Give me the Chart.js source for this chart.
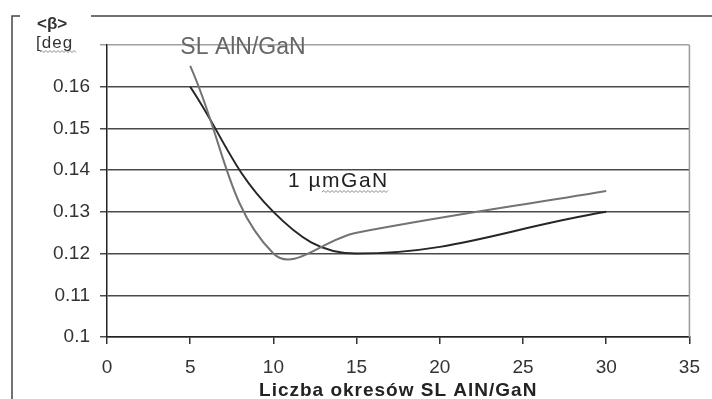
<!DOCTYPE html>
<html>
<head>
<meta charset="utf-8">
<script src="https://cdn.jsdelivr.net/npm/chart.js@4"></script>
<style>
  html, body { margin: 0; padding: 0; background: #fff; }
  #wrap { width: 712px; height: 399px; }
</style>
</head>
<body>
<div id="wrap"><canvas id="beta" width="712" height="399"></canvas></div>
<script>
// number of SL AlN/GaN periods
const periods = [5, 10, 15, 30];
// mean tilt <β> in degrees
const betaSL = [0.165, 0.12, 0.125, 0.135];
const betaGaN = [0.16, 0.13, 0.12, 0.13];

const xTicks = [0, 5, 10, 15, 20, 25, 30, 35];
const yTicks = [0.1, 0.11, 0.12, 0.13, 0.14, 0.15, 0.16, 0.17];

const toPoints = (ys) => periods.map((x, i) => ({ x: x, y: ys[i] }));

function squiggle(ctx, x0, x1, y) {
    ctx.beginPath();
    let up = true;
    ctx.moveTo(x0, y);
    for (let x = x0 + 2; x <= x1; x += 2) {
        ctx.lineTo(x, up ? y - 1.5 : y + 0.5);
        up = !up;
    }
    ctx.stroke();
}

const decorations = {
    id: 'decorations',
    afterDraw(chart) {
        const ctx = chart.ctx;
        const area = chart.chartArea;
        ctx.save();

        // right edge of the plot
        ctx.strokeStyle = '#9a9a9a';
        ctx.lineWidth = 1.5;
        ctx.beginPath();
        ctx.moveTo(area.right, area.top);
        ctx.lineTo(area.right, area.bottom);
        ctx.stroke();

        // outer frame
        ctx.strokeStyle = '#444';
        ctx.lineWidth = 1.5;
        ctx.beginPath();
        ctx.moveTo(20, 16);
        ctx.lineTo(12, 16);
        ctx.lineTo(12, 399);
        ctx.moveTo(91, 16);
        ctx.lineTo(712, 16);
        ctx.stroke();

        // axis unit
        ctx.fillStyle = '#333';
        ctx.textAlign = 'left';
        ctx.textBaseline = 'alphabetic';
        ctx.font = 'bold 17px "Liberation Sans", Arial, sans-serif';
        ctx.fillText('<β>', 37, 29);
        ctx.font = '17px "Liberation Sans", Arial, sans-serif';
        ctx.letterSpacing = '1px';
        ctx.fillText('[deg', 36, 48);

        // series labels
        ctx.letterSpacing = '0px';
        ctx.font = '23px "Liberation Sans", Arial, sans-serif';
        ctx.fillStyle = '#666';
        ctx.textAlign = 'center';
        ctx.fillText('SL AlN/GaN', 243, 54);
        ctx.font = '21px "Liberation Sans", Arial, sans-serif';
        ctx.letterSpacing = '1.5px';
        ctx.fillStyle = '#222';
        ctx.textAlign = 'left';
        ctx.fillText('1 µmGaN', 288, 187);

        // x axis title
        ctx.font = 'bold 19px "Liberation Sans", Arial, sans-serif';
        ctx.letterSpacing = '1px';
        ctx.fillStyle = '#222';
        ctx.textAlign = 'center';
        ctx.fillText('Liczba okresów SL AlN/GaN', (area.left + area.right) / 2, 396);
        ctx.letterSpacing = '0px';

        // spell-check underlines
        ctx.strokeStyle = '#8a8a8a';
        ctx.lineWidth = 1;
        squiggle(ctx, 40, 76, 52);
        squiggle(ctx, 322, 388, 192);

        ctx.restore();
    }
};

new Chart(document.getElementById('beta'), {
    type: 'line',
    data: {
        datasets: [{
            label: 'SL AlN/GaN',
            data: toPoints(betaSL),
            borderColor: '#737373',
            borderWidth: 2,
            pointRadius: 0,
            tension: 0.4,
            fill: false
        }, {
            label: '1 µm GaN',
            data: toPoints(betaGaN),
            borderColor: '#262626',
            borderWidth: 2,
            pointRadius: 0,
            tension: 0.4,
            fill: false
        }]
    },
    options: {
        responsive: false,
        animation: false,
        devicePixelRatio: 1,
        layout: { padding: { top: 45, right: 18, left: 0, bottom: 0 } },
        plugins: {
            legend: { display: false },
            tooltip: { enabled: false }
        },
        scales: {
            x: {
                type: 'linear',
                min: 0,
                max: 35,
                afterFit: (s) => { s.height = 62; },
                afterBuildTicks: (s) => { s.ticks = xTicks.map(v => ({ value: v })); },
                grid: {
                    drawOnChartArea: false,
                    drawTicks: true,
                    tickLength: 7,
                    color: '#333',
                    lineWidth: 1.5
                },
                border: { color: '#222', width: 1.5 },
                ticks: {
                    color: '#333',
                    padding: 12,
                    maxRotation: 0,
                    font: { family: '"Liberation Sans", Arial, sans-serif', size: 19 }
                }
            },
            y: {
                min: 0.1,
                max: 0.17,
                afterFit: (s) => { s.width = 107; },
                afterBuildTicks: (s) => { s.ticks = yTicks.map(v => ({ value: v })); },
                grid: {
                    drawTicks: true,
                    tickLength: 7,
                    color: (c) => c.tick && c.tick.value > 0.165 ? '#a0a0a0' : '#4a4a4a',
                    lineWidth: 1.5
                },
                border: { color: '#222', width: 1.5 },
                ticks: {
                    color: '#333',
                    padding: 10,
                    font: { family: '"Liberation Sans", Arial, sans-serif', size: 19 },
                    callback: (v) => v > 0.165 ? '' : String(Math.round(v * 100) / 100)
                }
            }
        }
    },
    plugins: [decorations]
});
</script>
</body>
</html>
